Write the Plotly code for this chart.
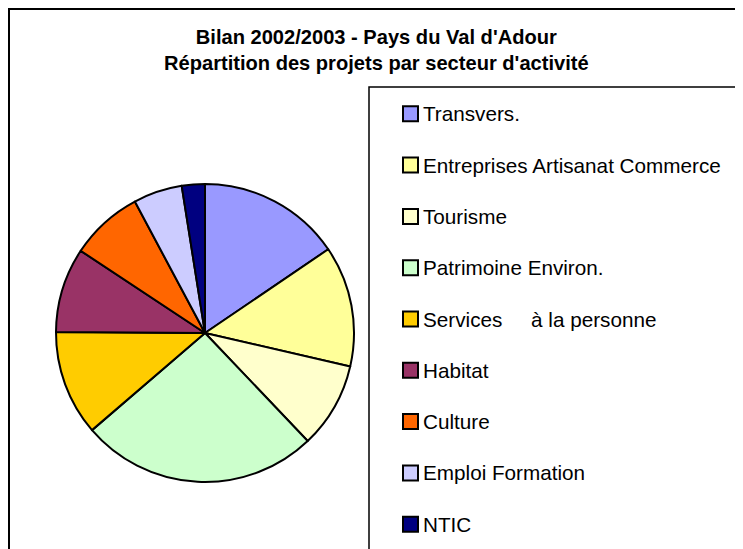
import plotly.graph_objects as go

# Data (percentages of projects)
labels = ["Transvers.", "Entreprises Artisanat Commerce", "Tourisme", "Patrimoine Environ.",
          "Services     à la personne", "Habitat", "Culture", "Emploi Formation", "NTIC"]
values = [15.5, 13.1, 9.3, 25.8, 11.4, 9.2, 7.9, 5.3, 2.5]
colors = ["#9999FF", "#FFFF99", "#FFFFCC", "#CCFFCC", "#FFCC00", "#993366", "#FF6600", "#CCCCFF", "#000080"]

title_lines = ["Bilan 2002/2003 - Pays du Val d'Adour",
               "Répartition des projets par secteur d'activité"]

W, H = 743, 549
OFF = 8  # page body margin offset
FONT = "Liberation Sans, Arial, sans-serif"

def px(x):
    return (x - OFF) / W

def py(y):
    return 1 - (y - OFF) / H

cx, cy, r = 205, 333, 149

fig = go.Figure(go.Pie(
    labels=labels,
    values=values,
    marker=dict(colors=colors, line=dict(color="black", width=2)),
    sort=False,
    direction="clockwise",
    rotation=0,
    textinfo="none",
    showlegend=False,
    domain=dict(x=[px(cx - r), px(cx + r)], y=[py(cy + r), py(cy - r)]),
))

shapes = [
    # outer chart border
    dict(type="rect", xref="paper", yref="paper", x0=px(9), y0=py(9), x1=px(W + 30), y1=py(H + 30),
         line=dict(color="black", width=2), fillcolor="rgba(0,0,0,0)", layer="below"),
    # legend box
    dict(type="rect", xref="paper", yref="paper", x0=px(369), y0=py(87), x1=px(W + 30), y1=py(H + 30),
         line=dict(color="black", width=1.5), fillcolor="rgba(0,0,0,0)", layer="below"),
]
annotations = []
row0, step = 113.8, 51.3
for i, (lab, col) in enumerate(zip(labels, colors)):
    yc = row0 + i * step
    shapes.append(dict(type="rect", xref="paper", yref="paper",
                       x0=px(403), x1=px(418), y0=py(yc + 7.5), y1=py(yc - 7.5),
                       fillcolor=col, line=dict(color="black", width=2)))
    annotations.append(dict(text=lab, xref="paper", yref="paper", x=px(421), y=py(yc),
                            xanchor="left", yanchor="middle", showarrow=False,
                            font=dict(family=FONT, size=20.7, color="black")))

annotations.append(dict(text="<b>" + title_lines[0] + "</b><br><b>" + title_lines[1] + "</b>",
                        xref="paper", yref="paper", x=px(376), y=py(50),
                        xanchor="center", yanchor="middle", showarrow=False, align="center",
                        font=dict(family=FONT, size=20.1, color="black")))

fig.update_layout(
    width=W, height=H,
    margin=dict(l=0, r=0, t=0, b=0),
    paper_bgcolor="white",
    plot_bgcolor="white",
    shapes=shapes,
    annotations=annotations,
    font=dict(family=FONT),
)

fig.write_html("out.html")
